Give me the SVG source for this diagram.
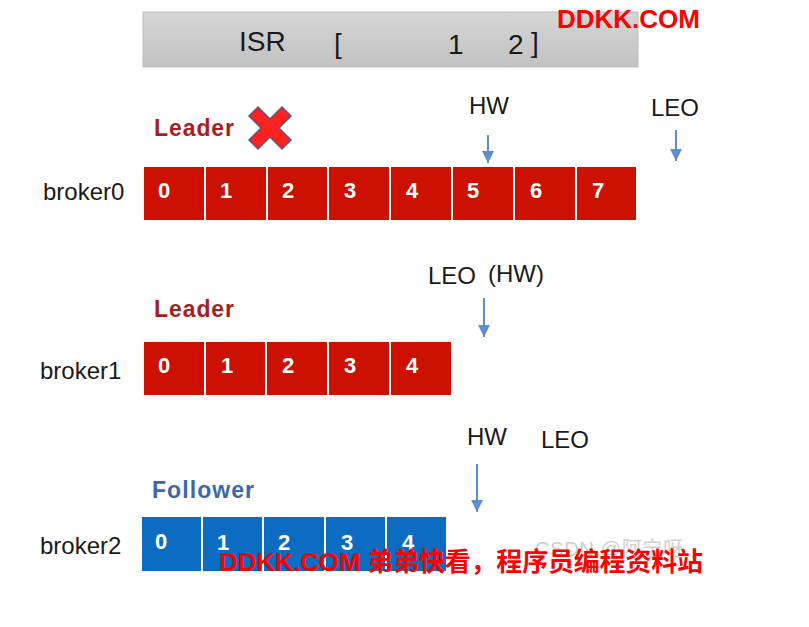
<svg xmlns="http://www.w3.org/2000/svg" width="809" height="627" viewBox="0 0 809 627">
<defs>
<linearGradient id="isrg" x1="0" y1="0" x2="0" y2="1">
<stop offset="0" stop-color="#d6d6d6"/><stop offset="1" stop-color="#c2c2c2"/>
</linearGradient>
<marker id="ah" markerWidth="12" markerHeight="12" refX="10" refY="5" orient="auto" markerUnits="userSpaceOnUse" viewBox="0 0 10 10">
<path d="M0,0 L10,5 L0,10 Z" fill="#5b8fd0"/>
</marker>
<style>
.lbl{font-family:"Liberation Sans",Arial,sans-serif;font-size:24px;fill:#1a1a1a}
.role{font-family:"Liberation Sans",Arial,sans-serif;font-size:23px;font-weight:bold}
.r{fill:#cc1100;stroke:#ffffff;stroke-width:2}
.b{fill:#0b6cc2;stroke:#ffffff;stroke-width:2}
.d{font-family:"Liberation Sans",Arial,sans-serif;font-size:22px;font-weight:bold;fill:#ffffff}
.arr{stroke:#5b8fd0;stroke-width:2;fill:none;marker-end:url(#ah)}
.wm{font-family:"Liberation Sans","Noto Sans CJK SC",sans-serif;font-weight:bold;fill:#ff0000}
</style>
</defs>
<rect width="809" height="627" fill="#ffffff"/>

<g id="isr">
<rect x="143" y="12" width="495" height="55" fill="url(#isrg)" stroke="#bdbdbd" stroke-width="1"/>
<text x="239" y="51" class="lbl" style="font-size:28px">ISR</text>
<text x="334" y="53" class="lbl" style="font-size:28px">[</text>
<text x="448" y="54" class="lbl" style="font-size:28px">1</text>
<text x="508" y="54" class="lbl" style="font-size:28px">2</text>
<text x="531" y="52" class="lbl" style="font-size:28px">]</text>
</g>

<g id="broker0">
<text x="43" y="200" class="lbl">broker0</text>
<text x="154" y="136" class="role" fill="#a81e1e" textLength="80">Leader</text>
<path d="M249,116 L258,107 L270,119 L282,107 L291,116 L279,128 L291,140 L282,149 L270,137 L258,149 L249,140 L261,128 Z" fill="#ff2020" stroke="#5a5a7a" stroke-width="1.5"/>
<rect x="143" y="166" width="62" height="55" class="r"/>
<rect x="205" y="166" width="62" height="55" class="r"/>
<rect x="267" y="166" width="61" height="55" class="r"/>
<rect x="328" y="166" width="62" height="55" class="r"/>
<rect x="390" y="166" width="62" height="55" class="r"/>
<rect x="452" y="166" width="62" height="55" class="r"/>
<rect x="514" y="166" width="62" height="55" class="r"/>
<rect x="576" y="166" width="61" height="55" class="r"/>
<text x="158" y="198" class="d">0</text>
<text x="220" y="198" class="d">1</text>
<text x="282" y="198" class="d">2</text>
<text x="344" y="198" class="d">3</text>
<text x="406" y="198" class="d">4</text>
<text x="467" y="198" class="d">5</text>
<text x="530" y="198" class="d">6</text>
<text x="592" y="198" class="d">7</text>
<text x="469" y="114" class="lbl">HW</text>
<text x="651" y="116" class="lbl">LEO</text>
</g>

<g id="broker1">
<text x="40" y="379" class="lbl">broker1</text>
<text x="154" y="317" class="role" fill="#a81e1e" textLength="80">Leader</text>
<rect x="143" y="341" width="62" height="55" class="r"/>
<rect x="205" y="341" width="61" height="55" class="r"/>
<rect x="266" y="341" width="62" height="55" class="r"/>
<rect x="328" y="341" width="62" height="55" class="r"/>
<rect x="390" y="341" width="62" height="55" class="r"/>
<text x="158" y="373" class="d">0</text>
<text x="221" y="373" class="d">1</text>
<text x="282" y="373" class="d">2</text>
<text x="344" y="373" class="d">3</text>
<text x="406" y="373" class="d">4</text>
<text x="428" y="284" class="lbl">LEO</text>
<text x="488" y="282" class="lbl">(HW)</text>
</g>

<g id="broker2">
<text x="40" y="554" class="lbl">broker2</text>
<text x="152" y="498" class="role" fill="#3d67ad" textLength="102">Follower</text>
<rect x="141" y="516" width="61" height="56" class="b"/>
<rect x="202" y="516" width="61" height="56" class="b"/>
<rect x="263" y="516" width="62" height="56" class="b"/>
<rect x="325" y="516" width="61" height="56" class="b"/>
<rect x="386" y="516" width="61" height="56" class="b"/>
<text x="155" y="549" class="d">0</text>
<text x="217" y="550" class="d">1</text>
<text x="278" y="550" class="d">2</text>
<text x="341" y="550" class="d">3</text>
<text x="402" y="550" class="d">4</text>
<text x="467" y="445" class="lbl">HW</text>
<text x="541" y="448" class="lbl">LEO</text>
</g>

<g id="connectors">
<line x1="488" y1="135" x2="488" y2="163" class="arr"/>
<line x1="676" y1="130" x2="676" y2="161" class="arr"/>
<line x1="484" y1="298" x2="484" y2="337" class="arr"/>
<line x1="477" y1="464" x2="477" y2="512" class="arr"/>
</g>

<text x="535" y="556" font-family="Liberation Sans,Noto Sans CJK SC,sans-serif" font-size="20" fill="#cfcfcf" textLength="148">CSDN @阿宁呀</text>
<text x="557" y="28" class="wm" font-size="26" textLength="143">DDKK.COM</text>
<text x="219" y="571" class="wm" font-size="26" textLength="484">DDKK.COM 弟弟快看，程序员编程资料站</text>
</svg>
